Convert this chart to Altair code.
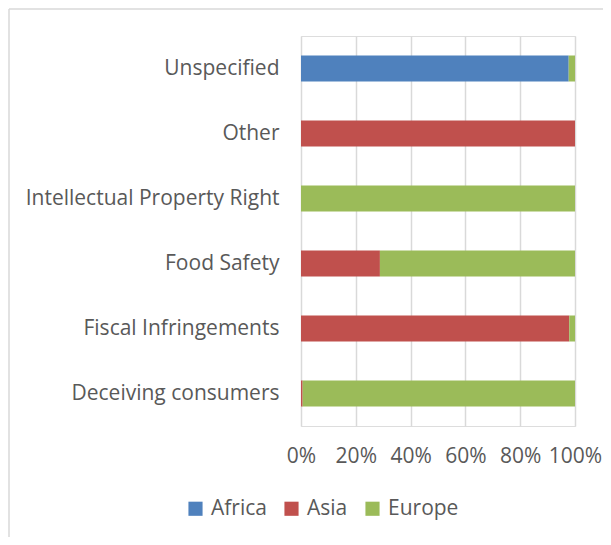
import altair as alt
import pandas as pd

categories = ["Unspecified", "Other", "Intellectual Property Right", "Food Safety",
              "Fiscal Infringements", "Deceiving consumers"]
regions = ["Africa", "Asia", "Europe"]
africa = [97.7, 0, 0, 0, 0, 0]
asia = [0, 100, 0, 28.8, 97.9, 0.6]
europe = [2.3, 0, 100, 71.2, 2.1, 99.4]
colors = ["#4F81BD", "#C0504D", "#9BBB59"]

rows = []
for i, c in enumerate(categories):
    for r, vals in zip(regions, [africa, asia, europe]):
        rows.append({"category": c, "region": r, "value": vals[i], "order": regions.index(r)})
df = pd.DataFrame(rows)

FONT = "Open Sans"
FS = 21
W, H = 274, 390

bars = alt.Chart(df).mark_bar().encode(
    y=alt.Y("category:N", sort=categories, title=None,
            scale=alt.Scale(paddingInner=0.6, paddingOuter=0.3),
            axis=alt.Axis(labelFont=FONT, labelFontSize=FS, labelColor="#595959",
                          ticks=False, domain=False, labelPadding=22, labelLimit=400)),
    x=alt.X("value:Q", stack="normalize", title=None,
            scale=alt.Scale(domain=[0, 1]),
            axis=alt.Axis(format="%", values=[0, 0.2, 0.4, 0.6, 0.8, 1.0],
                          labelFont=FONT, labelFontSize=FS, labelColor="#595959",
                          grid=True, gridColor="#D9D9D9", gridWidth=1.5,
                          domain=False, ticks=False, labelPadding=19, labelFlush=False)),
    color=alt.Color("region:N", sort=regions,
                    scale=alt.Scale(domain=regions, range=colors),
                    legend=alt.Legend(orient="none", legendX=-116, legendY=462,
                                      direction="horizontal", title=None,
                                      labelFont=FONT, labelFontSize=FS, labelColor="#595959",
                                      symbolType="square", symbolSize=200, symbolStrokeWidth=0,
                                      columnPadding=14, labelOffset=5)),
    order=alt.Order("order:Q"),
)

frame_df = pd.DataFrame({"f": [0]})
left_edge = alt.Chart(frame_df).mark_rule(color="#D9D9D9", strokeWidth=1.5).encode(
    x=alt.value(-292), y=alt.value(-27), y2=alt.value(600)
)
top_edge = alt.Chart(frame_df).mark_rule(color="#D9D9D9", strokeWidth=1.5).encode(
    x=alt.value(-292), x2=alt.value(400), y=alt.value(-27)
)

chart = alt.layer(left_edge, top_edge, bars).properties(
    width=W, height=H,
    autosize=alt.AutoSizeParams(type="none"),
    padding={"left": 293, "top": 28, "right": 28, "bottom": 111},
).configure_view(stroke=None).configure(background="white")

chart.save("out.html", embed_options={"renderer": "svg", "actions": False})
